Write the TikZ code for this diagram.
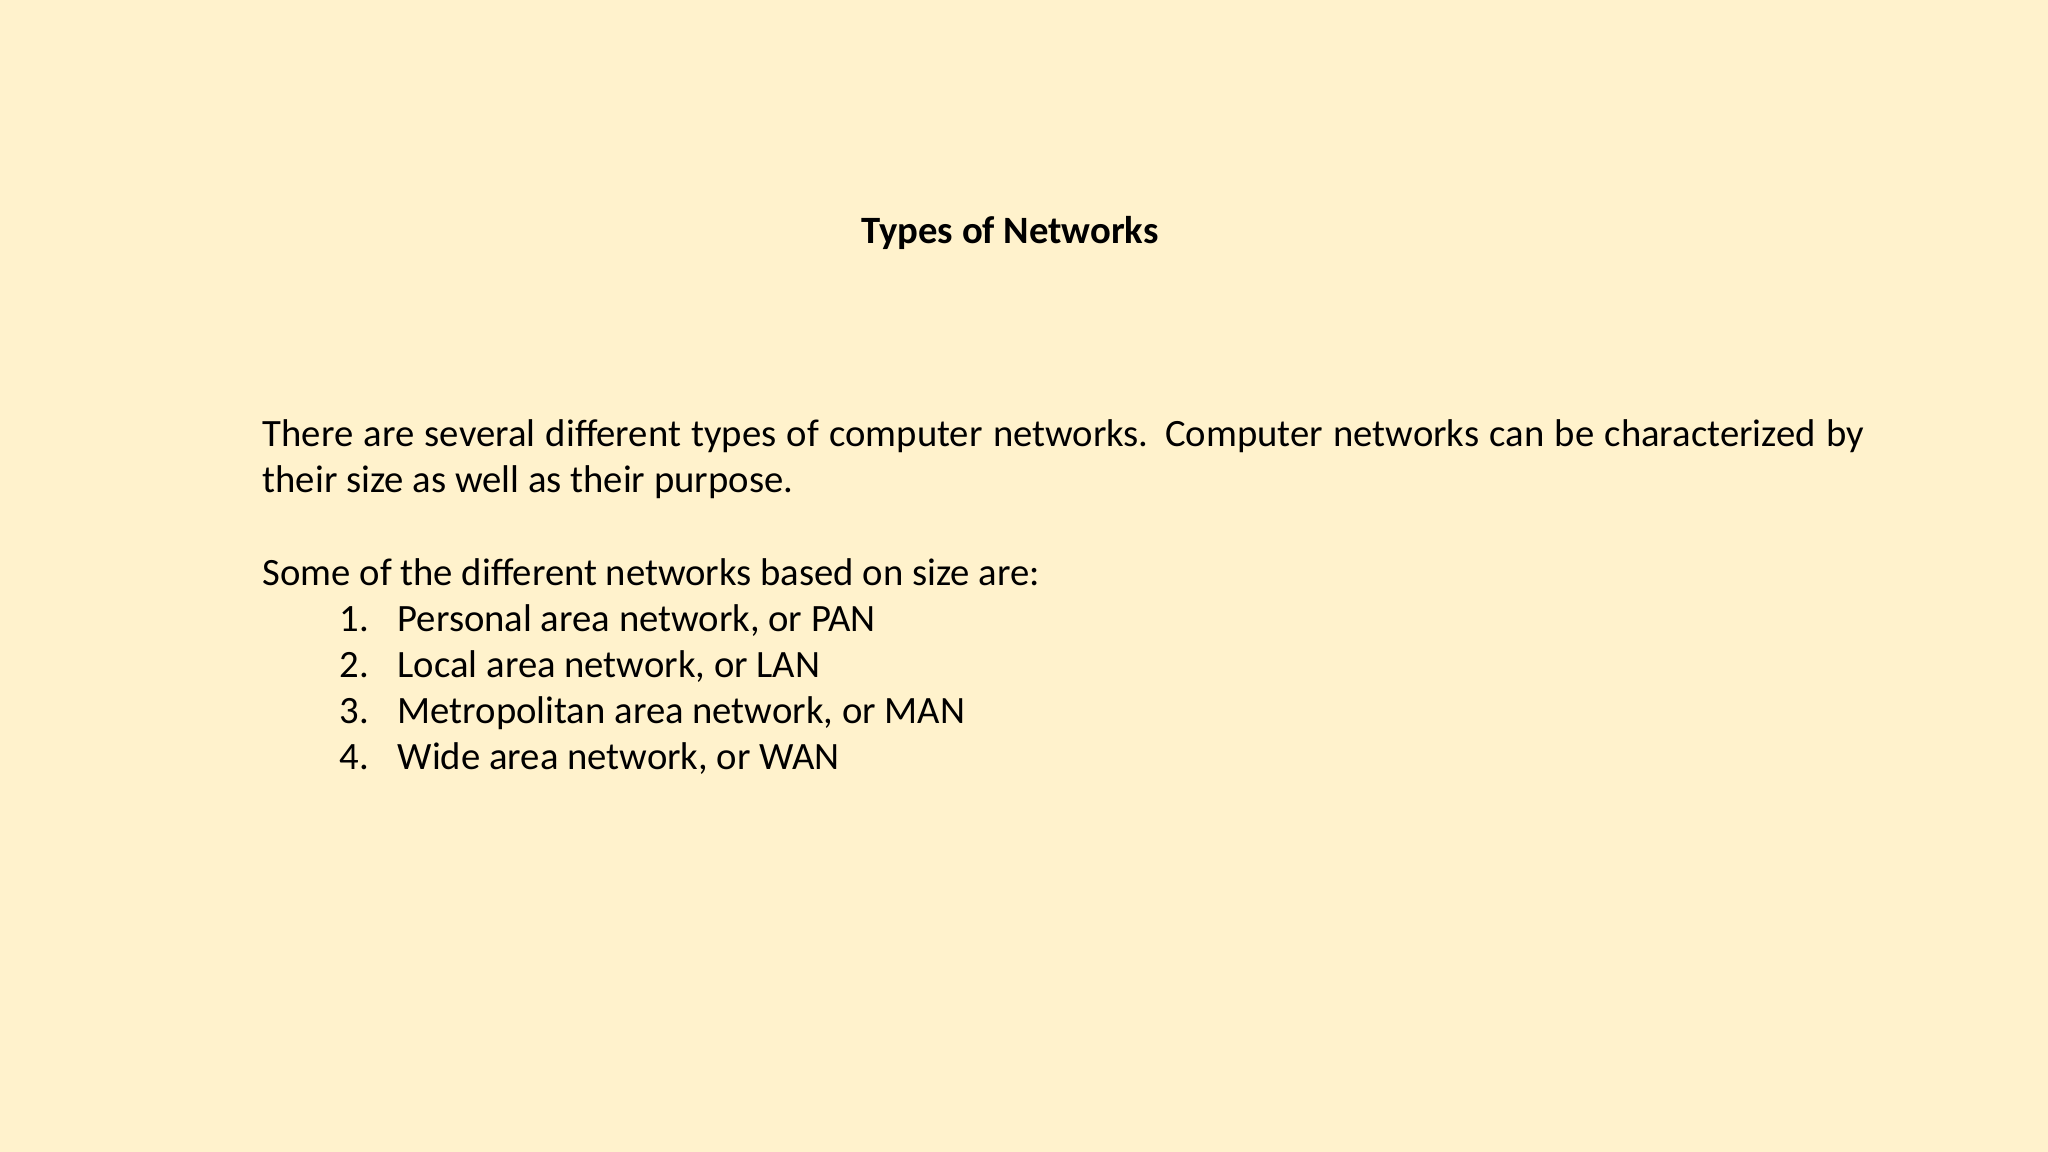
\documentclass[tikz,border=0pt]{standalone}
\usepackage{fontspec}
\setmainfont{Carlito}
\definecolor{bg}{HTML}{FFF2CC}
\begin{document}
\begin{tikzpicture}[x=0.01cm,y=-0.01cm,
  txt/.style={anchor=base west,inner sep=0pt,font=\fontsize{11}{13}\selectfont}]
\fill[bg] (0,0) rectangle (2048,1152);
\useasboundingbox (0,0) rectangle (2048,1152);
\node[inner sep=0pt,anchor=base,font=\fontsize{11}{13}\selectfont\bfseries] (title) at (1010,244) {Types of Networks};
\node[txt] (p1) at (262,447) {\makebox[16cm][s]{There are several different types of computer networks. Computer networks can be characterized by}};
\node[txt] (p2) at (262,493) {their size as well as their purpose.};
\node[txt] (s) at (262,585) {Some of the different networks based on size are:};
\node[txt] (n1) at (339,632) {1.};
\node[txt] (i1) at (397,632) {Personal area network, or PAN};
\node[txt] (n2) at (339,677) {2.};
\node[txt] (i2) at (397,677) {Local area network, or LAN};
\node[txt] (n3) at (339,723) {3.};
\node[txt] (i3) at (397,723) {Metropolitan area network, or MAN};
\node[txt] (n4) at (339,769) {4.};
\node[txt] (i4) at (397,769) {Wide area network, or WAN};
\end{tikzpicture}
\end{document}
